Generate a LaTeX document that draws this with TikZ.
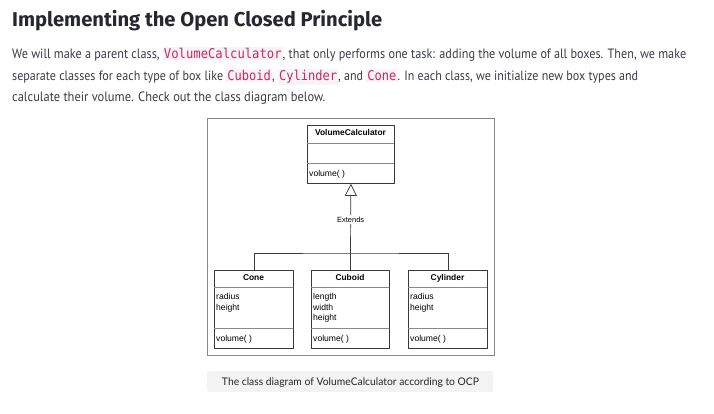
\documentclass[tikz,border=0pt]{standalone}
\usepackage{fontspec}
\usepackage{graphicx}
\setmainfont{PT Sans}
\newfontfamily\titlef{Fira Sans}
\newfontfamily\capf{Lato}
\newfontfamily\umlf{Liberation Sans}
\newfontfamily\codef{DejaVu Sans Mono}
\usetikzlibrary{arrows.meta}
\definecolor{titlecol}{HTML}{262730}
\definecolor{bodycol}{HTML}{3A3C48}
\definecolor{codered}{HTML}{D6245A}
\definecolor{codebg}{HTML}{F5F5F7}
\definecolor{capbg}{HTML}{F3F3F3}
\definecolor{framecol}{HTML}{8A8A8A}
\definecolor{umlcol}{HTML}{3A3A3A}
\newcommand\codeword[1]{{\setlength\fboxsep{1.2pt}\colorbox{codebg}{\textcolor{codered}{\codef #1}}}}
\newcommand\fitline[2]{\resizebox{#1}{\height}{#2}}
\tikzset{
  x=1pt, y=-1pt,
  textline/.style={anchor=base west, inner sep=0pt, text=bodycol, font=\fontsize{13.5}{16}\selectfont},
  umlbox/.style={draw=umlcol, line width=0.8pt, fill=white, inner sep=0pt, anchor=north west},
  umltitle/.style={anchor=base, inner sep=0pt, font=\umlf\bfseries\fontsize{8.4}{10}\selectfont, text=black},
  umltext/.style={anchor=base west, inner sep=0pt, font=\umlf\fontsize{8.6}{10}\selectfont, text=black},
  divider/.style={draw=umlcol!60, line width=0.6pt},
  conn/.style={draw=umlcol, line width=0.7pt},
}
\begin{document}
\begin{tikzpicture}
\useasboundingbox (0,0) rectangle (714,414);
\fill[white] (0,0) rectangle (714,414);
% title and paragraph
\node[anchor=base west, inner sep=0pt, text=titlecol, font=\titlef\bfseries\fontsize{20}{24}\selectfont] (title) at (12,27) {\fitline{370pt}{Implementing the Open Closed Principle}};
\node[textline] (l1) at (12,59) {\fitline{674pt}{We will make a parent class, \codeword{VolumeCalculator}, that only performs one task: adding the volume of all boxes. Then, we make}};
\node[textline] (l2) at (12,80.5) {\fitline{626pt}{separate classes for each type of box like \codeword{Cuboid}, \codeword{Cylinder}, and \codeword{Cone}. In each class, we initialize new box types and}};
\node[textline] (l3) at (12,101.5) {\fitline{313pt}{calculate their volume. Check out the class diagram below.}};
% frame
\node[draw=framecol, line width=0.8pt, inner sep=0pt, anchor=north west, minimum width=287pt, minimum height=237pt] (frame) at (207,118) {};
% VolumeCalculator
\node[umlbox, minimum width=87pt, minimum height=58pt] (vc) at (307,125) {};
\draw[divider] (307,143) -- (394,143);
\draw[divider] (307,163) -- (394,163);
\node[umltitle] (vct) at (350.5,136) {VolumeCalculator};
\node[umltext] (vcm) at (309,176) {volume(\ )};
% Cone
\node[umlbox, minimum width=79pt, minimum height=78pt] (cone) at (214,270) {};
\draw[divider] (214,287) -- (293,287);
\draw[divider] (214,328) -- (293,328);
\node[umltitle] (conet) at (253.5,280.5) {Cone};
\node[umltext] (conea) at (216,299.5) {radius};
\node[umltext] (coneb) at (216,310) {height};
\node[umltext] (conem) at (216,341) {volume(\ )};
% Cuboid
\node[umlbox, minimum width=78pt, minimum height=78pt] (cub) at (311,270) {};
\draw[divider] (311,287) -- (389,287);
\draw[divider] (311,328) -- (389,328);
\node[umltitle] (cubt) at (350,280.5) {Cuboid};
\node[umltext] (cuba) at (313,299.5) {length};
\node[umltext] (cubb) at (313,310) {width};
\node[umltext] (cubc) at (313,320.5) {height};
\node[umltext] (cubm) at (313,341) {volume(\ )};
% Cylinder
\node[umlbox, minimum width=79pt, minimum height=78pt] (cyl) at (408,270) {};
\draw[divider] (408,287) -- (487,287);
\draw[divider] (408,328) -- (487,328);
\node[umltitle] (cylt) at (447.5,280.5) {Cylinder};
\node[umltext] (cyla) at (410,299.5) {radius};
\node[umltext] (cylb) at (410,310) {height};
\node[umltext] (cylm) at (410,341) {volume(\ )};
% connectors
\coordinate (j) at (350,253);
\draw[conn] (cone.north) |- (j) -| (cyl.north);
\draw[conn, -{Triangle[open, length=12pt, width=12pt, line width=0.7pt]}] (cub.north) -- (vc.south)
  node[pos=0.586, fill=white, inner xsep=1pt, inner ysep=1.5pt, font=\umlf\fontsize{7.5}{9}\selectfont, text=black] (ext) {Extends};
% caption
\node[fill=capbg, rounded corners=2.5pt, inner sep=0pt, anchor=north west, minimum width=286pt, minimum height=21pt] (capbox) at (207,371) {};
\node[anchor=base, inner sep=0pt, text=black!85, font=\capf\fontsize{10.5}{12}\selectfont] (cap) at (350.5,385) {\fitline{257pt}{The class diagram of VolumeCalculator according to OCP}};
\end{tikzpicture}
\end{document}
